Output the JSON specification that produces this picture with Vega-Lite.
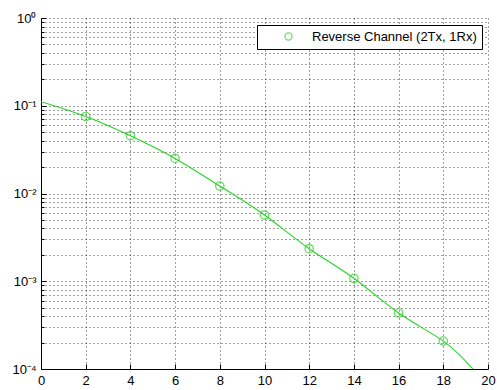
{
  "$schema": "https://vega.github.io/schema/vega-lite/v6.json",
  "width": 447,
  "height": 351,
  "autosize": {"type": "none"},
  "padding": {"left": 41, "top": 18, "right": 9, "bottom": 21},
  "background": "white",
  "config": {
    "view": {"stroke": null},
    "font": "Liberation Sans"
  },
  "data": {
    "values": [
      {"x": 0, "ber": 0.111, "series": "Reverse Channel (2Tx, 1Rx)"},
      {"x": 2, "ber": 0.0754, "series": "Reverse Channel (2Tx, 1Rx)"},
      {"x": 4, "ber": 0.0455, "series": "Reverse Channel (2Tx, 1Rx)"},
      {"x": 6, "ber": 0.0251, "series": "Reverse Channel (2Tx, 1Rx)"},
      {"x": 8, "ber": 0.01217, "series": "Reverse Channel (2Tx, 1Rx)"},
      {"x": 10, "ber": 0.00569, "series": "Reverse Channel (2Tx, 1Rx)"},
      {"x": 12, "ber": 0.00235, "series": "Reverse Channel (2Tx, 1Rx)"},
      {"x": 14, "ber": 0.00108, "series": "Reverse Channel (2Tx, 1Rx)"},
      {"x": 16, "ber": 0.000435, "series": "Reverse Channel (2Tx, 1Rx)"},
      {"x": 18, "ber": 0.000208, "series": "Reverse Channel (2Tx, 1Rx)"},
      {"x": 19.33, "ber": 0.0001, "series": "Reverse Channel (2Tx, 1Rx)"}
    ]
  },
  "encoding": {
    "x": {
      "field": "x",
      "type": "quantitative",
      "scale": {"domain": [0, 20], "nice": false, "zero": false},
      "axis": {
        "title": null,
        "values": [0, 2, 4, 6, 8, 10, 12, 14, 16, 18, 20],
        "grid": true,
        "gridColor": "black",
        "gridDash": [1, 3],
        "gridOpacity": 0.75,
        "gridWidth": 1,
        "domainColor": "black",
        "domainWidth": 1,
        "tickColor": "black",
        "tickSize": -5,
        "labelPadding": 10,
        "labelFontSize": 13,
        "labelColor": "black",
        "labelFlush": false
      }
    },
    "y": {
      "field": "ber",
      "type": "quantitative",
      "scale": {"type": "log", "domain": [0.0001, 1], "nice": false},
      "axis": {
        "title": null,
        "values": [0.0001, 0.0002, 0.0003, 0.0004, 0.0005, 0.0006, 0.0007, 0.0008, 0.0009,
                   0.001, 0.002, 0.003, 0.004, 0.005, 0.006, 0.007, 0.008, 0.009,
                   0.01, 0.02, 0.03, 0.04, 0.05, 0.06, 0.07, 0.08, 0.09,
                   0.1, 0.2, 0.3, 0.4, 0.5, 0.6, 0.7, 0.8, 0.9, 1],
        "labelExpr": "datum.value == 1 ? '10⁰' : datum.value == 0.1 ? '10⁻¹' : datum.value == 0.01 ? '10⁻²' : datum.value == 0.001 ? '10⁻³' : datum.value == 0.0001 ? '10⁻⁴' : ''",
        "grid": true,
        "gridColor": "black",
        "gridDash": [1, 3],
        "gridOpacity": 0.75,
        "gridWidth": 1,
        "domainColor": "black",
        "domainWidth": 1,
        "tickColor": "black",
        "tickSize": {"condition": {"test": "datum.value == 1 || datum.value == 0.1 || datum.value == 0.01 || datum.value == 0.001 || datum.value == 0.0001", "value": -5}, "value": -3},
        "labelPadding": 10,
        "labelFontSize": 13,
        "labelColor": "black",
        "labelFlush": false,
        "labelOverlap": false
      }
    },
    "color": {
      "field": "series",
      "type": "nominal",
      "scale": {"range": ["#22d422"]},
      "legend": {
        "title": null,
        "orient": "none",
        "legendX": 216,
        "legendY": 7,
        "strokeColor": "black",
        "fillColor": "white",
        "padding": 5,
        "symbolType": "circle",
        "symbolSize": 50,
        "symbolFillColor": "white",
        "symbolStrokeWidth": 1.3,
        "symbolOffset": 20,
        "labelFontSize": 13,
        "labelColor": "black",
        "labelOffset": 17,
        "labelLimit": 300
      }
    }
  },
  "layer": [
    {
      "mark": {"type": "line", "interpolate": "natural", "strokeWidth": 1.1, "clip": true}
    },
    {
      "transform": [{"filter": "datum.x >= 2 && datum.x <= 18"}],
      "mark": {"type": "point", "shape": "circle", "size": 70, "filled": false, "strokeWidth": 1.3}
    }
  ]
}
